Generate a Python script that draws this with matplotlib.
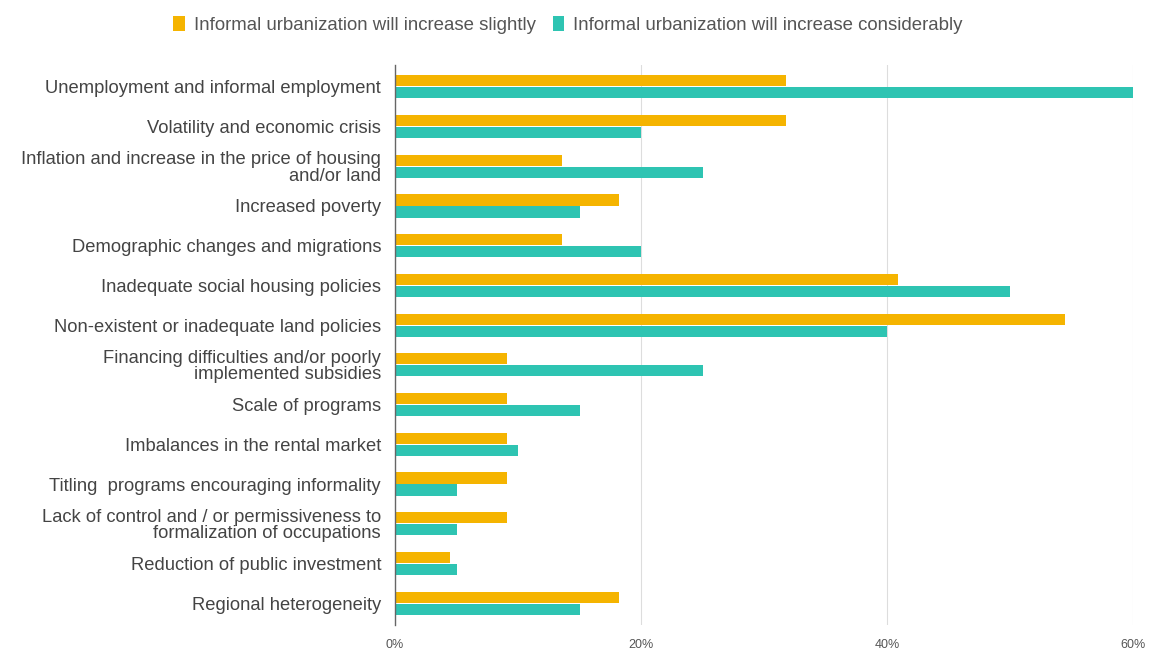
import matplotlib.pyplot as plt
import numpy as np
from matplotlib.ticker import PercentFormatter

plt.rcParams["font.family"] = ["Liberation Sans", "DejaVu Sans"]

# Factors behind informal urbanization (share of responses, %)
categories = [
    "Unemployment and informal employment",
    "Volatility and economic crisis",
    "Inflation and increase in the price of housing\nand/or land",
    "Increased poverty",
    "Demographic changes and migrations",
    "Inadequate social housing policies",
    "Non-existent or inadequate land policies",
    "Financing difficulties and/or poorly\nimplemented subsidies",
    "Scale of programs",
    "Imbalances in the rental market",
    "Titling  programs encouraging informality",
    "Lack of control and / or permissiveness to\nformalization of occupations",
    "Reduction of public investment",
    "Regional heterogeneity",
]
increase_slightly = [31.8, 31.8, 13.6, 18.2, 13.6, 40.9, 54.5, 9.1, 9.1, 9.1, 9.1, 9.1, 4.5, 18.2]
increase_considerably = [60, 20, 25, 15, 20, 50, 40, 25, 15, 10, 5, 5, 5, 15]
x_ticks = [0, 20, 40, 60]

YELLOW = "#f5b400"
TEAL = "#2ec4b2"

fig = plt.figure(figsize=(11.55, 6.51), dpi=100)
ax = fig.add_axes([395 / 1155, 26 / 651, 738 / 1155, 560 / 651])

y = np.arange(len(categories))
h = 0.28
ax.barh(y - h / 2 - 0.01, increase_slightly, height=h, color=YELLOW,
        label="Informal urbanization will increase slightly", zorder=3)
ax.barh(y + h / 2 + 0.01, increase_considerably, height=h, color=TEAL,
        label="Informal urbanization will increase considerably", zorder=3)

ax.set_ylim(len(categories) - 0.45, -0.55)
ax.set_xlim(0, 60)
ax.set_yticks(y)
ax.set_yticklabels(categories, fontsize=13.2, color="#444444", linespacing=0.95)
ax.set_xticks(x_ticks)
ax.xaxis.set_major_formatter(PercentFormatter(decimals=0))
ax.tick_params(axis="x", labelsize=9, labelcolor="#555555", length=0, pad=10)
ax.tick_params(axis="y", length=0, pad=10)

ax.grid(axis="x", color="#dddddd", linewidth=0.8, zorder=0)
for side in ["top", "right", "bottom"]:
    ax.spines[side].set_visible(False)
ax.spines["left"].set_color("#666666")
ax.spines["left"].set_linewidth(1.0)
ax.spines["left"].set_zorder(4)

fig.legend(loc="center", bbox_to_anchor=(568 / 1155, 1 - 25 / 651), ncol=2,
           frameon=False, fontsize=13.4, handlelength=0.6, handleheight=0.9,
           handletextpad=0.5, columnspacing=0.9, labelcolor="#555555")

fig.savefig("out.png", dpi=100)
